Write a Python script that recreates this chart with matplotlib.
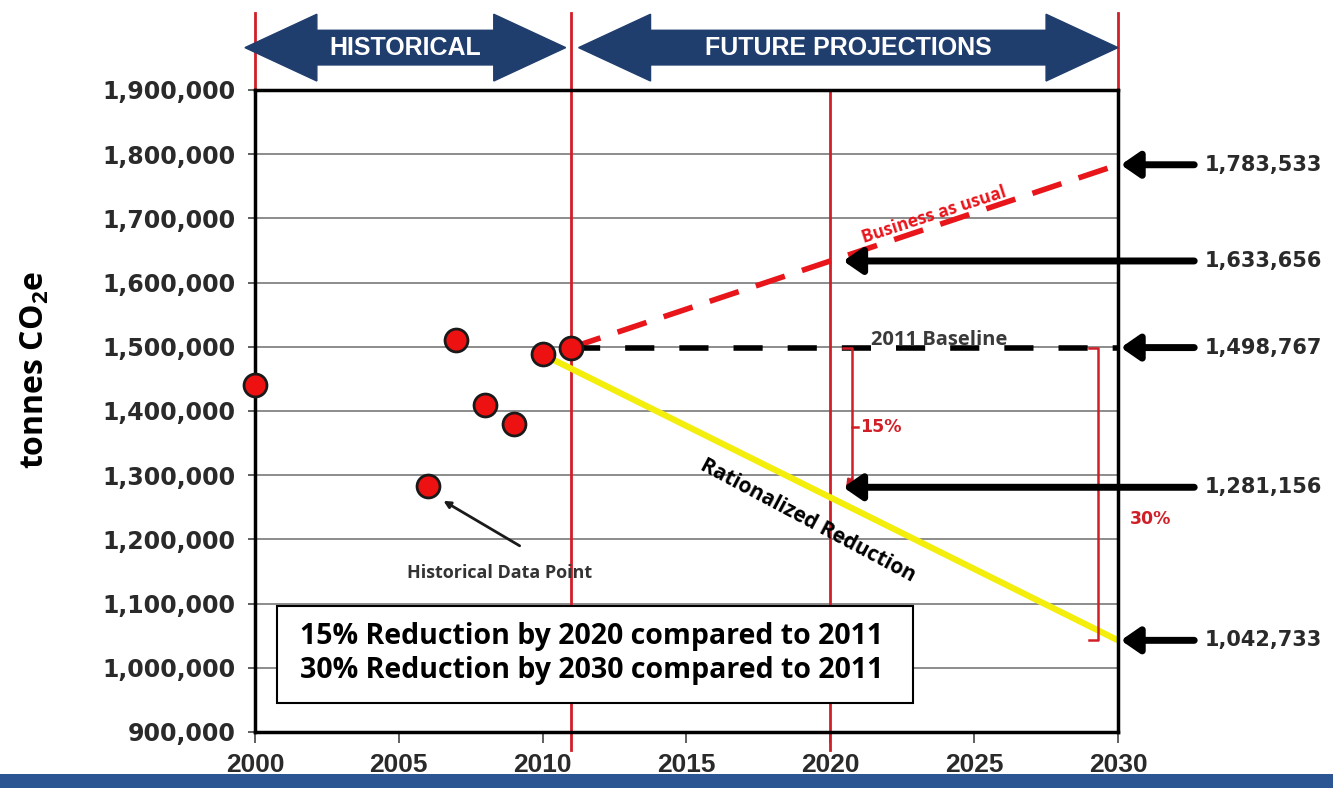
import matplotlib.pyplot as plt
from matplotlib.patches import Polygon, Rectangle

# historical inventory
hist_years = [2000, 2006, 2007, 2008, 2009, 2010, 2011]
hist_tonnes = [1440000, 1283000, 1511000, 1409000, 1380000, 1488000, 1498767]

# projections
bau_years = [2011, 2020, 2030]
bau_tonnes = [1498767, 1633656, 1783533]
baseline_years = [2011, 2030]
baseline_tonnes = [1498767, 1498767]
reduction_years = [2010, 2030]
reduction_tonnes = [1488000, 1042733]

# values called out on the right
callout_years = [2030, 2020, 2030, 2020, 2030]
callout_tonnes = [1783533, 1633656, 1498767, 1281156, 1042733]

x_ticks = [2000, 2005, 2010, 2015, 2020, 2025, 2030]
y_ticks = list(range(900000, 1900001, 100000))

RED = '#d11f27'
NAVY = '#1f3d6d'
ARIAL = ['Liberation Sans', 'DejaVu Sans']
SANS = ['Open Sans', 'DejaVu Sans']

plt.rcParams['lines.scale_dashes'] = False
plt.rcParams['mathtext.fontset'] = 'custom'
plt.rcParams['mathtext.rm'] = 'Open Sans:bold'
plt.rcParams['mathtext.bf'] = 'Open Sans:bold'

fig = plt.figure(figsize=(13.33, 7.88), dpi=100)
ax = fig.add_axes([0.1913, 0.0711, 0.6474, 0.8147])
ax.set_xlim(2000, 2030)
ax.set_ylim(900000, 1900000)

for s in ax.spines.values():
    s.set_linewidth(2.5)
    s.set_zorder(6)

ax.set_yticks(y_ticks)
ax.set_yticklabels([f'{v:,}' for v in y_ticks], fontsize=17, fontweight='bold')
ax.set_xticks(x_ticks)
ax.set_xticklabels([str(v) for v in x_ticks], fontsize=19, fontweight='bold', family=ARIAL)
ax.tick_params(axis='y', direction='out', length=5, width=1.2, pad=9, colors='#444444')
ax.tick_params(axis='x', direction='out', length=8, width=1.2, pad=7, colors='#444444')
for lbl in ax.get_xticklabels() + ax.get_yticklabels():
    lbl.set_color('#2a2a2a')
ax.yaxis.grid(True, color='#8c8c8c', lw=1.4, zorder=0.5)
ax.set_axisbelow(True)

xt = ax.get_xaxis_transform()
# red period separators
ax.plot([2000, 2000], [1.0, 1.12], transform=xt, color=RED, lw=2, clip_on=False, zorder=1)
ax.plot([2011, 2011], [-0.028, 1.12], transform=xt, color=RED, lw=2, clip_on=False, zorder=1)
ax.plot([2020, 2020], [-0.028, 1.0], transform=xt, color=RED, lw=2, clip_on=False, zorder=1)
ax.plot([2030, 2030], [1.0, 1.12], transform=xt, color=RED, lw=2, clip_on=False, zorder=1)


def double_arrow(x0, x1, label):
    head = 2.5
    yc, hh, sh = 1.066, 0.052, 0.027
    pts = [(x0, yc), (x0 + head, yc + hh), (x0 + head, yc + sh), (x1 - head, yc + sh),
           (x1 - head, yc + hh), (x1, yc), (x1 - head, yc - hh), (x1 - head, yc - sh),
           (x0 + head, yc - sh), (x0 + head, yc - hh)]
    ax.add_patch(Polygon(pts, closed=True, color=NAVY, transform=xt, clip_on=False, zorder=2))
    ax.text((x0 + x1) / 2, yc, label, transform=xt, ha='center', va='center', color='white',
            fontsize=18, fontweight='bold', family=ARIAL, zorder=3)


double_arrow(1999.65, 2010.8, 'HISTORICAL')
double_arrow(2011.25, 2030.0, 'FUTURE PROJECTIONS')

# trajectories
ax.plot(reduction_years, reduction_tonnes, color='#f3ee0c', lw=4.5, zorder=2, solid_capstyle='butt')
ax.plot(bau_years, bau_tonnes, color='#e8151b', lw=4, dashes=(22, 13), dash_capstyle='butt', zorder=3)
ax.plot(baseline_years, baseline_tonnes, color='black', lw=4, dashes=(21, 18),
        dash_capstyle='butt', zorder=3)
ax.plot(hist_years, hist_tonnes, 'o', ms=16.5, mfc='#ee1111', mec='#1a1a1a', mew=2,
        zorder=7, clip_on=False)

# right-hand call-outs
for yr, val in zip(callout_years, callout_tonnes):
    tip = yr + (0.45 if yr == 2020 else 0.1)
    ax.annotate('', xy=(tip, val), xytext=(2032.65, val), annotation_clip=False,
                arrowprops=dict(arrowstyle='-|>,head_length=0.55,head_width=0.38',
                                mutation_scale=20, color='black', lw=5,
                                shrinkA=0, shrinkB=0), zorder=5)
    ax.text(2033.0, val, f'{val:,}', ha='left', va='center', fontsize=15,
            fontweight='bold', color='#2a2a2a', clip_on=False)

# 15% bracket
base, t2020, t2030 = baseline_tonnes[0], callout_tonnes[3], callout_tonnes[4]
ax.plot([2020.45, 2020.75, 2020.75], [base, base, t2020 + 12000], color=RED, lw=1.8, zorder=4)
ax.annotate('', xy=(2020.55, t2020), xytext=(2020.75, t2020 + 14000),
            arrowprops=dict(arrowstyle='-|>', color=RED, lw=1.8, shrinkA=0, shrinkB=0), zorder=4)
mid15 = (base + t2020) / 2 - 15000
ax.plot([2020.75, 2020.95], [mid15, mid15], color=RED, lw=1.8, zorder=4)
ax.text(2021.05, mid15, '15%', ha='left', va='center', fontsize=12.5, fontweight='bold', color=RED)

# 30% bracket
ax.plot([2029.0, 2029.3, 2029.3, 2029.0], [base, base, t2030, t2030], color=RED, lw=1.8, zorder=4)
ax.text(2030.4, 1232000, '30%', ha='left', va='center', fontsize=12.5, fontweight='bold',
        color=RED, clip_on=False)

# annotations
ax.text(2023.8, 1511000, '2011 Baseline', ha='center', va='center', fontsize=14.5,
        fontweight='bold', family=SANS, color='#3a3a3a', zorder=1,
        bbox=dict(facecolor='white', edgecolor='none', pad=2))
ax.text(2023.6, 1706000, 'Business as usual', ha='center', va='center', rotation=18,
        rotation_mode='anchor', fontsize=12.5, fontweight='bold', family=SANS, color='#e8151b')
ax.text(2019.2, 1229000, 'Rationalized Reduction', ha='center', va='center', rotation=-28,
        rotation_mode='anchor', fontsize=15, fontweight='bold', family=SANS, color='black', zorder=6)
ax.text(2008.5, 1147000, 'Historical Data Point', ha='center', va='center', fontsize=13,
        fontweight='bold', family=SANS, color='#333333')
ax.annotate('', xy=(2006.55, 1260000), xytext=(2009.2, 1190000),
            arrowprops=dict(arrowstyle='-|>', color='#1a1a1a', lw=2, shrinkA=0, shrinkB=0))

ax.add_patch(Rectangle((2000.76, 945700), 22.1, 150400, facecolor='white', edgecolor='black',
                       lw=1.5, zorder=5))
ax.text(2001.55, 1049000, '15% Reduction by 2020 compared to 2011', ha='left', va='center',
        fontsize=20.5, fontweight='bold', family=SANS, color='black', zorder=6)
ax.text(2001.55, 996000, '30% Reduction by 2030 compared to 2011', ha='left', va='center',
        fontsize=20.5, fontweight='bold', family=SANS, color='black', zorder=6)

fig.text(0.026, 0.53, r'tonnes CO$_{\mathbf{2}}$e', rotation=90, ha='center', va='center',
         fontsize=23, fontweight='bold', family=SANS)

fig.add_artist(Rectangle((0, 0), 1, 14 / 788, transform=fig.transFigure,
                         facecolor='#2b5593', edgecolor='none'))

fig.savefig('out.png', dpi=100)
